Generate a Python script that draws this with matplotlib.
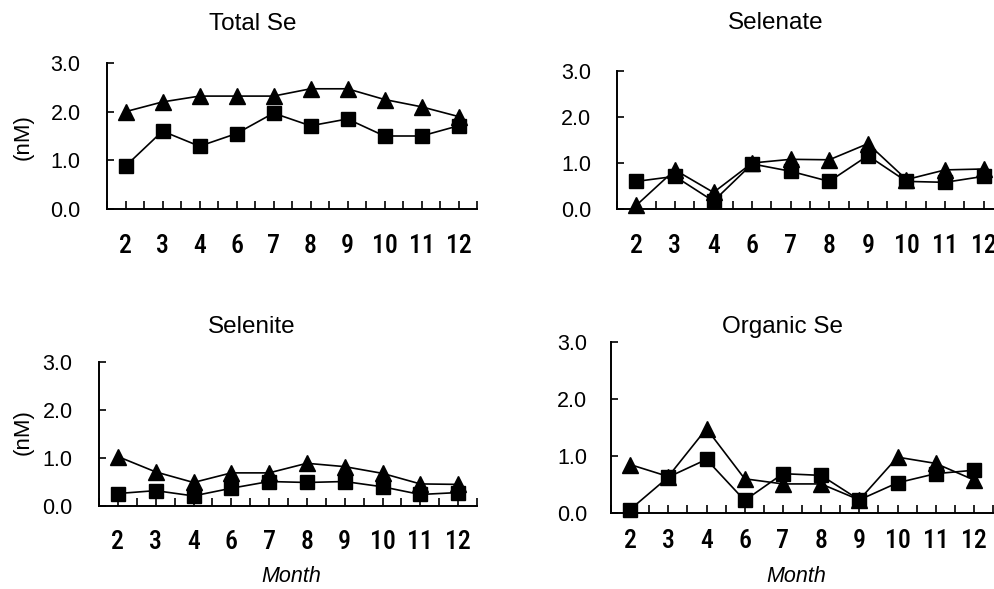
import matplotlib
matplotlib.use("Agg")
import matplotlib.pyplot as plt
import numpy as np

months = ['2', '3', '4', '6', '7', '8', '9', '10', '11', '12']
yticks = [0.0, 1.0, 2.0, 3.0]
ytick_labels = ['0.0', '1.0', '2.0', '3.0']

total_tri = [2.0, 2.2, 2.32, 2.32, 2.32, 2.47, 2.47, 2.25, 2.1, 1.9]
total_sq = [0.88, 1.6, 1.29, 1.55, 1.97, 1.71, 1.85, 1.5, 1.5, 1.71]
selenate_tri = [0.08, 0.85, 0.36, 1.0, 1.08, 1.07, 1.42, 0.64, 0.85, 0.87]
selenate_sq = [0.6, 0.71, 0.17, 0.98, 0.82, 0.6, 1.16, 0.6, 0.58, 0.71]
selenite_tri = [1.03, 0.71, 0.49, 0.69, 0.69, 0.89, 0.82, 0.68, 0.46, 0.45]
selenite_sq = [0.26, 0.32, 0.21, 0.37, 0.51, 0.49, 0.51, 0.4, 0.24, 0.28]
organic_tri = [0.85, 0.64, 1.48, 0.6, 0.51, 0.51, 0.23, 0.98, 0.87, 0.58]
organic_sq = [0.06, 0.63, 0.94, 0.22, 0.69, 0.66, 0.23, 0.53, 0.69, 0.75]

W, H = 994, 589
fig = plt.figure(figsize=(W / 100, H / 100), dpi=100)

NARROW = ['Liberation Sans Narrow', 'Roboto Condensed', 'PT Sans Narrow',
          'Archivo Narrow', 'Liberation Sans', 'DejaVu Sans']
TICK_FONT_X = dict(family=NARROW, size=18.5, weight='medium')
TICK_FONT_Y = dict(family=['Liberation Sans', 'DejaVu Sans'], size=15.5)


def px_axes(left, top, bottom, step):
    width = 10 * step
    return fig.add_axes([left / W, 1 - bottom / H, width / W, (bottom - top) / H])


panels = [
    dict(geom=(107, 63, 209, 37.0), tri=total_tri, sq=total_sq, xpad=18, ypad=19),
    dict(geom=(617, 71, 209, 38.6), tri=selenate_tri, sq=selenate_sq, xpad=18, ypad=18.5),
    dict(geom=(99, 362, 506, 37.8), tri=selenite_tri, sq=selenite_sq, xpad=17.5, ypad=19),
    dict(geom=(611, 342, 513, 38.2), tri=organic_tri, sq=organic_sq, xpad=11.5, ypad=17),
]

x = np.arange(len(months))
for p in panels:
    ax = px_axes(*p['geom'])
    ax.plot(x, p['tri'], color='black', lw=1.2, marker='^', ms=11,
            clip_on=False, zorder=3)
    ax.plot(x, p['sq'], color='black', lw=1.2, marker='s', ms=9.5,
            clip_on=False, zorder=4)
    ax.set_xlim(-0.5, 9.5)
    ax.set_ylim(0, 3.0)
    for s in ['top', 'right']:
        ax.spines[s].set_visible(False)
    for s in ['left', 'bottom']:
        ax.spines[s].set_linewidth(1.4)
        ax.spines[s].set_color('black')
    ax.set_xticks(x)
    ax.set_xticklabels(months, fontdict=TICK_FONT_X)
    ax.set_xticks(np.arange(-0.5, 10.0, 1.0), minor=True)
    ax.set_yticks(yticks)
    ax.set_yticklabels(ytick_labels, fontdict=TICK_FONT_Y)
    ax.tick_params(axis='x', which='both', direction='in', length=6, width=1.2,
                   pad=p['xpad'])
    ax.tick_params(axis='y', which='both', direction='in', length=5, width=1.2,
                   pad=p['ypad'])
    ax.patch.set_alpha(0)

TITLE_FONT = dict(family=['Liberation Sans', 'DejaVu Sans'], size=17.5)


def ftext(xp, yp, s, **kw):
    fig.text(xp / W, 1 - yp / H, s, ha='center', va='center', **kw)


ftext(253, 24, 'Total Se', **TITLE_FONT)
ftext(776, 23, 'Selenate', **TITLE_FONT)
ftext(252, 327, 'Selenite', **TITLE_FONT)
ftext(783, 327, 'Organic Se', **TITLE_FONT)

YL_FONT = dict(family=['Liberation Sans', 'DejaVu Sans'], size=16)
ftext(23, 137, '(nM)', rotation=90, **YL_FONT)
ftext(23, 432, '(nM)', rotation=90, **YL_FONT)

MONTH_FONT = dict(family=['Liberation Sans', 'DejaVu Sans'], size=15.5, style='italic')
ftext(291, 576, 'Month', **MONTH_FONT)
ftext(796, 576, 'Month', **MONTH_FONT)

fig.savefig('out.png', dpi=100, facecolor='white')
